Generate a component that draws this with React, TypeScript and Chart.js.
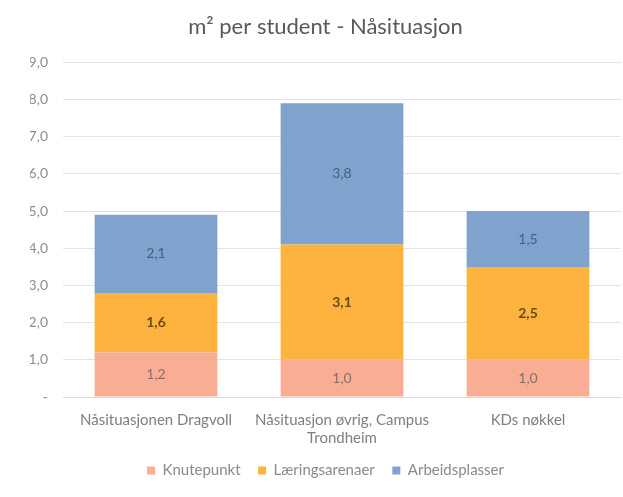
import React, { useEffect, useRef } from "react";
import { Chart, registerables } from "chart.js";

Chart.register(...registerables);

const categories: (string | string[])[] = [
  "Nåsituasjonen Dragvoll",
  ["Nåsituasjon øvrig, Campus", "Trondheim"],
  "KDs nøkkel",
];
const knutepunkt = [1.2, 1.0, 1.0];
const laeringsarenaer = [1.6, 3.1, 2.5];
const arbeidsplasser = [2.1, 3.8, 1.5];
const yTicks = [0, 1, 2, 3, 4, 5, 6, 7, 8, 9];

const FONT = "Lato, 'Open Sans', 'Liberation Sans', sans-serif";

const labelPlugin = {
  id: "segLabels",
  afterDatasetsDraw(chart: any) {
    const ctx = chart.ctx;
    const styles = [
      { color: "#8a6f66", weight: "normal" },
      { color: "#6a4a12", weight: "bold" },
      { color: "#46607f", weight: "normal" },
    ];
    chart.data.datasets.forEach((ds: any, di: number) => {
      const meta = chart.getDatasetMeta(di);
      meta.data.forEach((el: any, i: number) => {
        const v = ds.data[i];
        const cy = (el.y + el.base) / 2;
        ctx.save();
        ctx.font = `${styles[di].weight} 14px ${FONT}`;
        ctx.fillStyle = styles[di].color;
        ctx.textAlign = "center";
        ctx.textBaseline = "middle";
        ctx.fillText(v.toFixed(1).replace(".", ","), el.x, cy);
        ctx.restore();
      });
    });
  },
};

export default function App() {
  const ref = useRef<HTMLCanvasElement | null>(null);
  useEffect(() => {
    document.body.style.margin = "0";
    const chart = new Chart(ref.current as HTMLCanvasElement, {
      type: "bar",
      data: {
        labels: categories as any,
        datasets: [
          { label: "Knutepunkt", data: knutepunkt, backgroundColor: "#F9AD95" },
          { label: "Læringsarenaer", data: laeringsarenaer, backgroundColor: "#FDB33E" },
          { label: "Arbeidsplasser", data: arbeidsplasser, backgroundColor: "#7FA3CC" },
        ],
      },
      options: {
        animation: false,
        responsive: false,
        layout: { padding: { left: 30, right: 2, top: 0, bottom: 9 } },
        datasets: { bar: { categoryPercentage: 1, barPercentage: 0.66 } } as any,
        plugins: {
          title: {
            display: true,
            text: "m² per student - Nåsituasjon",
            color: "#595959",
            font: { family: FONT, size: 22, weight: "normal" },
            padding: { top: 14, bottom: 22 },
          },
          legend: {
            position: "bottom",
            labels: {
              boxWidth: 8,
              boxHeight: 8,
              color: "#8a8a8a",
              font: { family: FONT, size: 15 },
              padding: 10,
              generateLabels: (c: any) => {
                const items = Chart.defaults.plugins.legend.labels.generateLabels(c);
                return items.map((it: any, i: number) =>
                  i < items.length - 1 ? { ...it, text: it.text + "\u2002" } : it
                );
              },
            },
          },
          tooltip: { enabled: false },
        },
        scales: {
          x: {
            stacked: true,
            grid: { display: false },
            border: { display: true, color: "#dcdcdc" },
            ticks: { color: "#7f7f7f", font: { family: FONT, size: 15 }, padding: 6, maxRotation: 0 },
          },
          y: {
            stacked: true,
            min: 0,
            max: 9,
            afterBuildTicks: (s: any) => {
              s.ticks = yTicks.map((v) => ({ value: v }));
            },
            afterFit: (s: any) => {
              s.width = 33;
            },
            grid: { color: "#e3e3e3", drawTicks: false },
            border: { display: false },
            ticks: {
              color: "#8c8c8c",
              font: { family: FONT, size: 14 },
              padding: 15,
              callback: (v: any) => (Number(v) === 0 ? "-" : Number(v).toFixed(1).replace(".", ",")),
            },
          },
        },
      },
      plugins: [labelPlugin],
    });
    return () => chart.destroy();
  }, []);
  return <canvas ref={ref} width={623} height={497} style={{ display: "block" }} />;
}
